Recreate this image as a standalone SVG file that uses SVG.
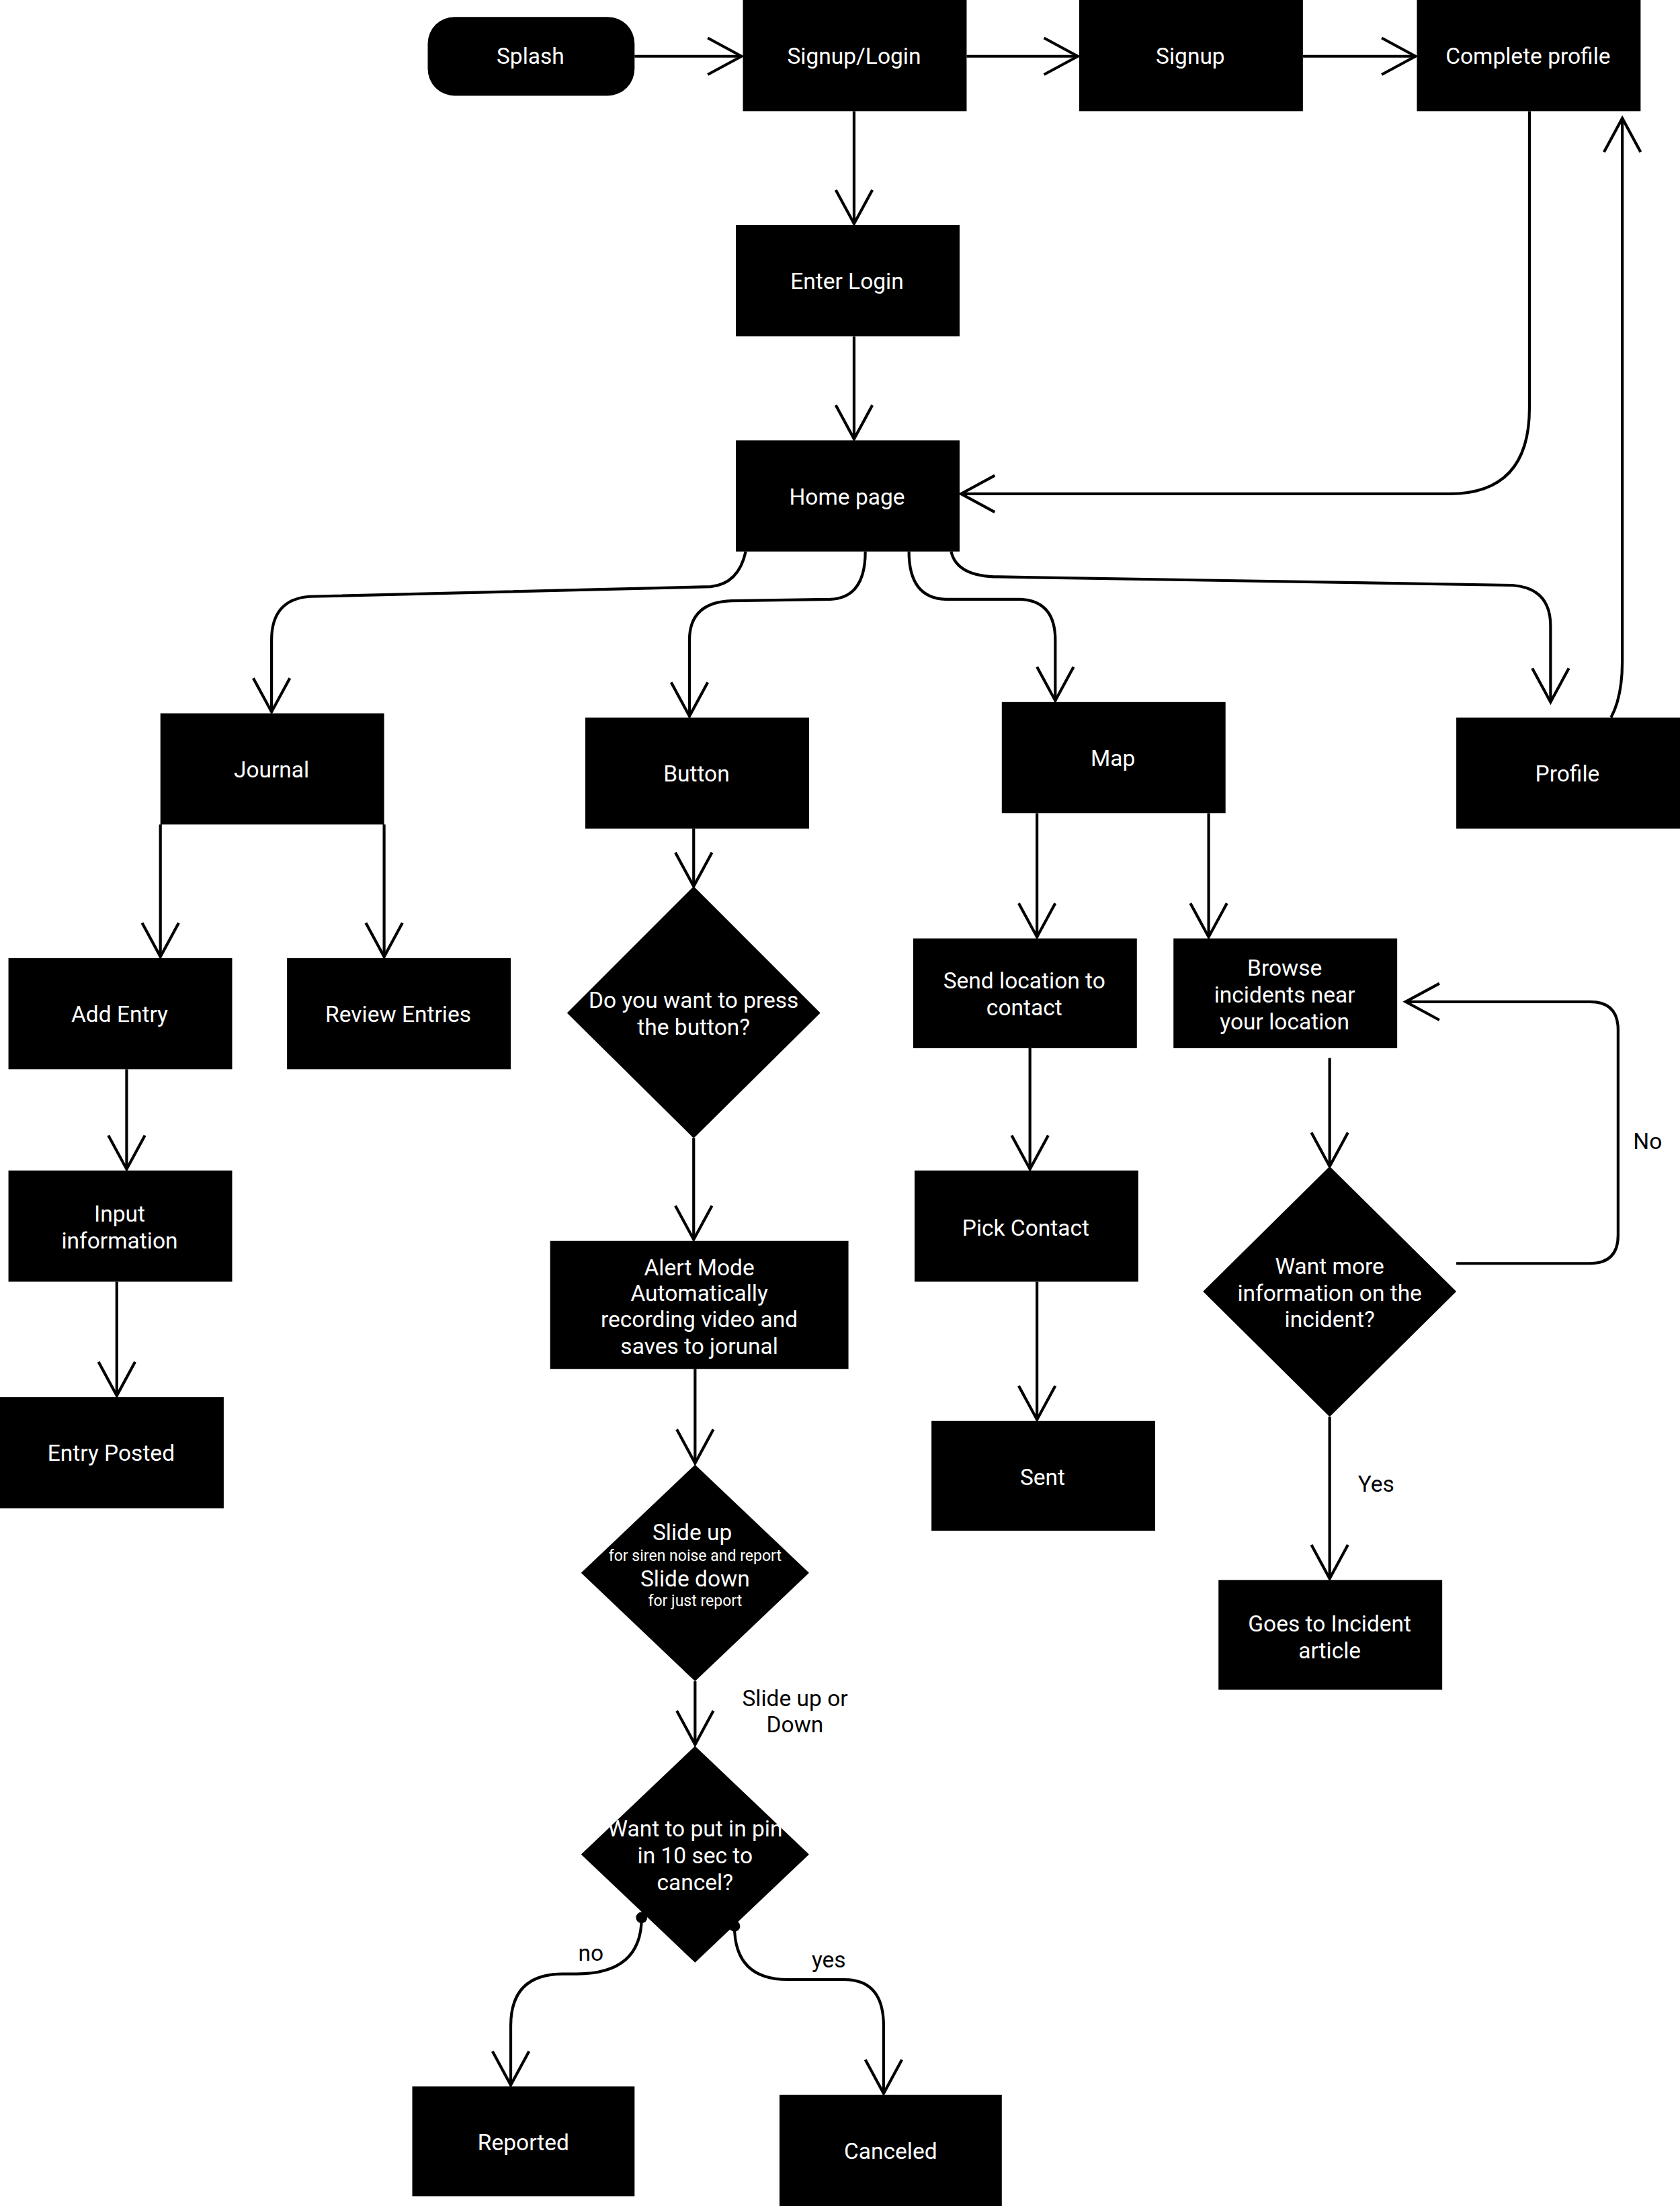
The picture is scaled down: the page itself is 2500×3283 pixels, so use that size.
<svg xmlns="http://www.w3.org/2000/svg" width="2500" height="3283" viewBox="0 0 2500 3283">
<style>
.n{fill:#000}
.t{fill:#fff;font-family:Roboto,"Liberation Sans",sans-serif;font-size:16px;text-anchor:middle;dominant-baseline:central}
.s{font-size:11px}
.l{fill:#000;font-family:Roboto,"Liberation Sans",sans-serif;font-size:16px;text-anchor:middle;dominant-baseline:central}
.c{fill:none;stroke:#000;stroke-width:2;marker-end:url(#a)}
</style>
<defs>
<marker id="a" markerUnits="userSpaceOnUse" orient="auto" markerWidth="40" markerHeight="40" refX="0" refY="0" viewBox="-30 -20 40 40" overflow="visible">
<path d="M-24,-13 L0,0 L-24,13" fill="none" stroke="#000" stroke-width="2"/>
</marker>
</defs>
<rect width="2500" height="3283" fill="#fff"/>
<g transform="scale(2.0938)">
<g id="connectors">
<path class="c" d="M451,40 H527"/>
<path class="c" d="M687,40 H766"/>
<path class="c" d="M926,40 H1006"/>
<path class="c" d="M607,79 V159"/>
<path class="c" d="M607,239 V312"/>
<path class="c" d="M1087,79 V290 Q1087,351 1030,351 H683"/>
<path class="c" d="M1145,510 Q1153,495 1153,470 V84"/>
<path class="c" d="M530,392 Q525,415 505,417 L220,424 Q193,426 193,455 V506"/>
<path class="c" d="M615,392 Q615,425 590,426 L520,427 Q490,428 490,455 V509"/>
<path class="c" d="M646,392 Q646,425 672,426 L725,426 Q750,427 750,455 V498"/>
<path class="c" d="M676,392 Q680,410 710,410 L1075,416 Q1102,418 1102,445 V499"/>
<path class="c" d="M114,586 V680"/>
<path class="c" d="M273,586 V680"/>
<path class="c" d="M90,760 V831"/>
<path class="c" d="M83,911 V992"/>
<path class="c" d="M493,589 V630"/>
<path class="c" d="M493,809 V881"/>
<path class="c" d="M494,973 V1040"/>
<path class="c" d="M494,1195 V1240"/>
<path class="c" d="M456,1363 Q456,1403 410,1403 H400 Q363,1403 363,1440 V1482"/>
<path class="c" d="M522,1369 Q522,1407 560,1407 H600 Q628,1407 628,1440 V1488"/>
<path class="c" d="M737,578 V666"/>
<path class="c" d="M859,578 V666"/>
<path class="c" d="M732,745 V831"/>
<path class="c" d="M737,911 V1009"/>
<path class="c" d="M945,752 V829"/>
<path class="c" d="M1035,898 H1130 Q1150,898 1150,878 V732 Q1150,712 1130,712 H999"/>
<path class="c" d="M945,1007 V1122"/>
<circle cx="456" cy="1363" r="4" fill="#000"/>
<circle cx="522" cy="1369" r="4" fill="#000"/>
<text class="l" x="565" y="1207">Slide up or</text>
<text class="l" x="565" y="1226">Down</text>
<text class="l" x="420" y="1388">no</text>
<text class="l" x="589" y="1393">yes</text>
<text class="l" x="1171" y="811">No</text>
<text class="l" x="978" y="1055">Yes</text>
</g>
<g id="splash"><rect class="n" x="304" y="12" width="147" height="56" rx="19"/><text class="t" x="377" y="40">Splash</text></g>
<g id="signuplogin"><rect class="n" x="528" y="0" width="159" height="79"/><text class="t" x="607" y="40">Signup/Login</text></g>
<g id="signup"><rect class="n" x="767" y="0" width="159" height="79"/><text class="t" x="846" y="40">Signup</text></g>
<g id="complete"><rect class="n" x="1007" y="0" width="159" height="79"/><text class="t" x="1086" y="40">Complete profile</text></g>
<g id="enterlogin"><rect class="n" x="523" y="160" width="159" height="79"/><text class="t" x="602" y="200">Enter Login</text></g>
<g id="home"><rect class="n" x="523" y="313" width="159" height="79"/><text class="t" x="602" y="353">Home page</text></g>
<g id="journal"><rect class="n" x="114" y="507" width="159" height="79"/><text class="t" x="193" y="547">Journal</text></g>
<g id="button"><rect class="n" x="416" y="510" width="159" height="79"/><text class="t" x="495" y="550">Button</text></g>
<g id="map"><rect class="n" x="712" y="499" width="159" height="79"/><text class="t" x="791" y="539">Map</text></g>
<g id="profile"><rect class="n" x="1035" y="510" width="159" height="79"/><text class="t" x="1114" y="550">Profile</text></g>
<g id="addentry"><rect class="n" x="6" y="681" width="159" height="79"/><text class="t" x="85" y="721">Add Entry</text></g>
<g id="review"><rect class="n" x="204" y="681" width="159" height="79"/><text class="t" x="283" y="721">Review Entries</text></g>
<g id="input"><rect class="n" x="6" y="832" width="159" height="79"/><text class="t" x="85" y="863">Input</text><text class="t" x="85" y="882">information</text></g>
<g id="posted"><rect class="n" x="0" y="993" width="159" height="79"/><text class="t" x="79" y="1033">Entry Posted</text></g>
<g id="d1"><polygon class="n" points="493,630 583,720 493,809 403,720"/><text class="t" x="493" y="711">Do you want to press</text><text class="t" x="493" y="730">the button?</text></g>
<g id="alert"><rect class="n" x="391" y="882" width="212" height="91"/><text class="t" x="497" y="901">Alert Mode</text><text class="t" x="497" y="919">Automatically</text><text class="t" x="497" y="938">recording video and</text><text class="t" x="497" y="957">saves to jorunal</text></g>
<g id="d2"><polygon class="n" points="494,1041 575,1118 494,1195 413,1118"/><text class="t" x="492" y="1089">Slide up</text><text class="t s" x="494" y="1106">for siren noise and report</text><text class="t" x="494" y="1122">Slide down</text><text class="t s" x="494" y="1138">for just report</text></g>
<g id="d3"><polygon class="n" points="494,1241 575,1318 494,1395 413,1318"/><text class="t" x="494" y="1300">Want to put in pin</text><text class="t" x="494" y="1319">in 10 sec to</text><text class="t" x="494" y="1338">cancel?</text></g>
<g id="reported"><rect class="n" x="293" y="1483" width="158" height="78"/><text class="t" x="372" y="1523">Reported</text></g>
<g id="canceled"><rect class="n" x="554" y="1489" width="158" height="79"/><text class="t" x="633" y="1529">Canceled</text></g>
<g id="sendloc"><rect class="n" x="649" y="667" width="159" height="78"/><text class="t" x="728" y="697">Send location to</text><text class="t" x="728" y="716">contact</text></g>
<g id="pick"><rect class="n" x="650" y="832" width="159" height="79"/><text class="t" x="729" y="873">Pick Contact</text></g>
<g id="sent"><rect class="n" x="662" y="1010" width="159" height="78"/><text class="t" x="741" y="1050">Sent</text></g>
<g id="browse"><rect class="n" x="834" y="667" width="159" height="78"/><text class="t" x="913" y="688">Browse</text><text class="t" x="913" y="707">incidents near</text><text class="t" x="913" y="726">your location</text></g>
<g id="d4"><polygon class="n" points="945,829 1035,918 945,1007 855,918"/><text class="t" x="945" y="900">Want more</text><text class="t" x="945" y="919">information on the</text><text class="t" x="945" y="938">incident?</text></g>
<g id="goes"><rect class="n" x="866" y="1123" width="159" height="78"/><text class="t" x="945" y="1154">Goes to Incident</text><text class="t" x="945" y="1173">article</text></g>
</g>
</svg>
